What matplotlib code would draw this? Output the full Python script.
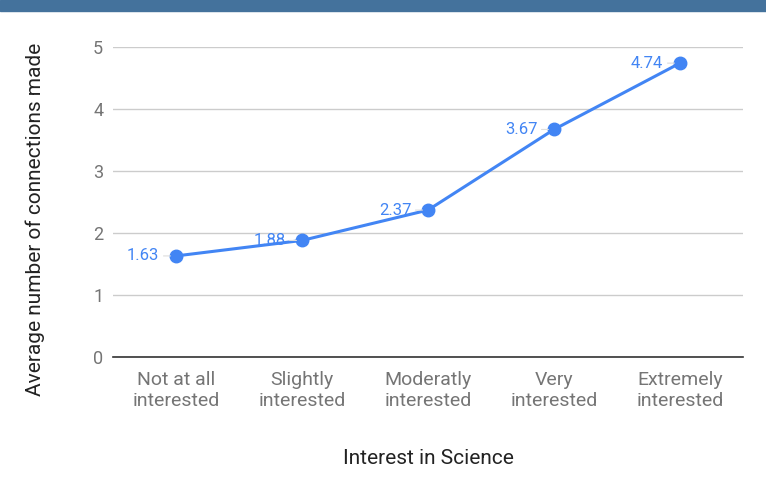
import matplotlib
matplotlib.use('Agg')
import matplotlib.pyplot as plt
import numpy as np

CATEGORIES = ['Not at all\ninterested', 'Slightly\ninterested', 'Moderatly\ninterested',
              'Very\ninterested', 'Extremely\ninterested']
VALUES = [1.63, 1.88, 2.37, 3.67, 4.74]
YTICKS = [0, 1, 2, 3, 4, 5]

BLUE = '#4285F4'
GRAY_TXT = '#757575'

plt.rcParams.update({'font.family': ['Roboto', 'DejaVu Sans']})

fig = plt.figure(figsize=(7.66, 4.83), dpi=100)
fig.patches.append(plt.Rectangle((0, 1 - 11/483), 1, 11/483, transform=fig.transFigure,
                                 color='#44729c', zorder=0))
ax = fig.add_axes([113/766, 126/483, 630/766, 310/483])

x = np.arange(len(CATEGORIES))
ax.plot(x, VALUES, color=BLUE, linewidth=2.2, marker='o', markersize=9, zorder=5)
for xi, v in zip(x, VALUES):
    ax.annotate(f'{v:.2f}', (xi, v), xytext=(-12, 0), textcoords='offset points',
                ha='right', va='center', color=BLUE, fontsize=12, zorder=6,
                arrowprops=dict(arrowstyle='-', color='#dddddd', lw=0.8,
                                shrinkA=1, shrinkB=4))

ax.set_xlim(-0.5, len(CATEGORIES) - 0.5)
ax.set_ylim(0, 5)
ax.set_yticks(YTICKS)
ax.set_xticks(x)
ax.set_xticklabels(CATEGORIES, fontsize=14, color=GRAY_TXT, linespacing=1.25)
ax.tick_params(axis='y', labelsize=13, labelcolor=GRAY_TXT, length=0, pad=7)
ax.tick_params(axis='x', length=0, pad=10)
ax.grid(axis='y', color='#cccccc', linewidth=1)
ax.set_axisbelow(True)
for s in ['top', 'right', 'left']:
    ax.spines[s].set_visible(False)
ax.spines['bottom'].set_color('#333333')
ax.spines['bottom'].set_linewidth(1.2)

ax.set_xlabel('Interest in Science', fontsize=15, color='#222222', labelpad=28)
ax.set_ylabel('Average number of connections made', fontsize=15, color='#222222')
ax.yaxis.set_label_coords(-0.108, 0.445)

fig.savefig('out.png', dpi=100)
